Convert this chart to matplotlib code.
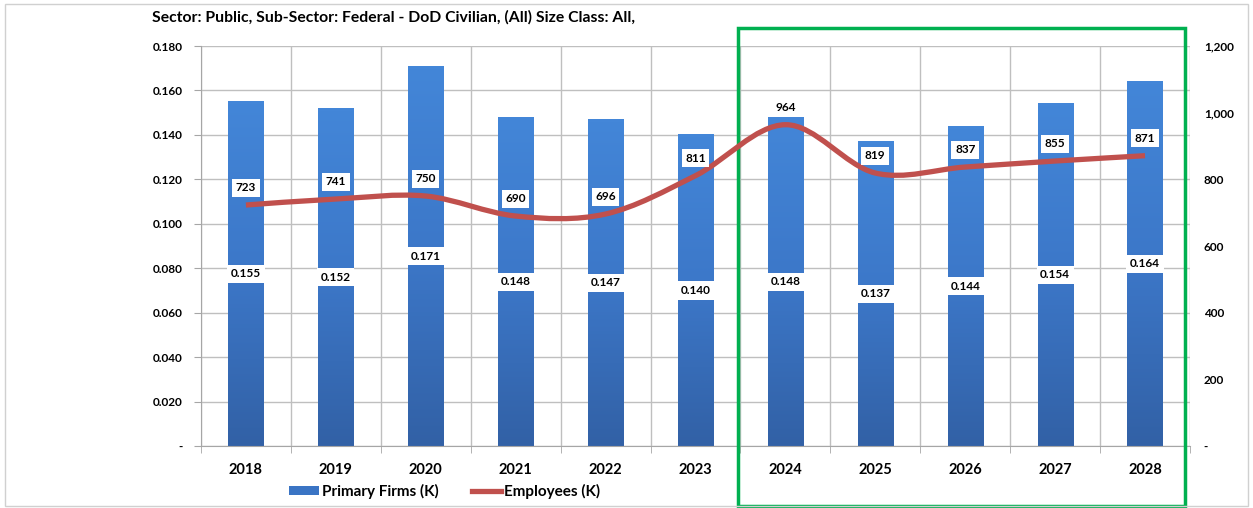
import numpy as np
import matplotlib.pyplot as plt
from matplotlib.path import Path
from matplotlib.patches import PathPatch, Rectangle
from matplotlib.lines import Line2D
from matplotlib.colors import LinearSegmentedColormap
from matplotlib.transforms import blended_transform_factory

plt.rcParams['font.family'] = ['Lato', 'DejaVu Sans']

years = ['2018', '2019', '2020', '2021', '2022', '2023', '2024', '2025', '2026', '2027', '2028']
firms = [0.155, 0.152, 0.171, 0.148, 0.147, 0.140, 0.148, 0.137, 0.144, 0.154, 0.164]
employees = [723, 741, 750, 690, 696, 811, 964, 819, 837, 855, 871]

title = 'Sector: Public, Sub-Sector: Federal - DoD Civilian, (All) Size Class: All,'

fig = plt.figure(figsize=(12.53, 5.08), dpi=100)
ax = fig.add_axes([0.1604, 0.122, 0.7893, 0.7874])
x = np.arange(len(years))

# bars with a vertical gradient
bars = ax.bar(x, firms, width=0.39, color='#3A74C4', zorder=2)
grad = np.linspace(0, 1, 100).reshape(-1, 1)
cmap = LinearSegmentedColormap.from_list('b', ['#3261A6', '#3C77C8', '#4386D8'])
for b in bars:
    x0, w, h = b.get_x(), b.get_width(), b.get_height()
    ax.imshow(grad, extent=(x0, x0 + w, 0, h), origin='lower', cmap=cmap,
              aspect='auto', zorder=2.1, interpolation='bicubic')

ax.set_xlim(-0.5, len(years) - 0.5)
ax.set_ylim(0, 0.18)
ax.set_yticks(np.arange(0, 0.181, 0.02))
ax.set_yticklabels(['-'] + ['%.3f' % v for v in np.arange(0.02, 0.181, 0.02)])
ax.set_xticks(x)
ax.set_xticklabels(years)
ax.set_xticks(np.arange(-0.5, len(years), 1), minor=True)
ax.grid(True, axis='y', color='#BFBFBF', lw=1, zorder=0)
ax.grid(True, axis='x', which='minor', color='#BFBFBF', lw=1, zorder=0)
ax.tick_params(axis='x', which='major', length=0, pad=12, labelsize=10.5)
ax.tick_params(axis='x', which='minor', length=5, color='#A6A6A6')
ax.tick_params(axis='y', length=5, color='#A6A6A6', labelsize=8.5, pad=8)
for lab in ax.get_xticklabels() + ax.get_yticklabels():
    lab.set_fontweight('bold')
for s in ['top', 'right']:
    ax.spines[s].set_visible(False)
ax.spines['left'].set_color('#A6A6A6')
ax.spines['bottom'].set_color('#A6A6A6')

for xi, v in zip(x, firms):
    ax.text(xi, v / 2, '%.3f' % v, ha='center', va='center', fontsize=8.5,
            fontweight='bold', zorder=5,
            bbox=dict(boxstyle='square,pad=0.3', fc='white', ec='none'))

# secondary axis with smoothed employee line
ax2 = ax.twinx()
ax2.set_ylim(0, 1200)
ax2.set_yticks(np.arange(0, 1201, 200))
ax2.set_yticklabels(['-'] + ['{:,}'.format(v) for v in range(200, 1201, 200)])
ax2.tick_params(axis='y', length=0, labelsize=8.5, pad=10)
for lab in ax2.get_yticklabels():
    lab.set_fontweight('bold')
for s in ax2.spines.values():
    s.set_visible(False)

pts = np.column_stack([x, employees]).astype(float)
verts = [pts[0]]
codes = [Path.MOVETO]
n = len(pts)
for i in range(n - 1):
    p0 = pts[max(i - 1, 0)]
    p1 = pts[i]
    p2 = pts[i + 1]
    p3 = pts[min(i + 2, n - 1)]
    c1 = p1 + (p2 - p0) / 6
    c2 = p2 - (p3 - p1) / 6
    verts += [c1, c2, p2]
    codes += [Path.CURVE4] * 3
ax2.add_patch(PathPatch(Path(verts, codes), fc='none', ec='#C0504D', lw=3.8,
                        capstyle='butt', zorder=3))

for xi, v in zip(x, employees):
    ax2.annotate(str(v), (xi, v), xytext=(0, 12.5), textcoords='offset points',
                 ha='center', va='center', fontsize=8.5, fontweight='bold', zorder=6,
                 bbox=dict(boxstyle='square,pad=0.3', fc='white', ec='none'))

fig.text(0.1213, 0.966, title, ha='left', va='center', fontsize=11.3, fontweight='bold')

handles = [Rectangle((0, 0), 1, 1, fc='#3A74C4'),
           Line2D([], [], color='#C0504D', lw=3.8)]
fig.legend(handles, ['Primary Firms (K)', 'Employees (K)'], loc='center',
           bbox_to_anchor=(0.355, 0.033), ncol=2, frameon=False,
           handlelength=1.9, handleheight=0.6, columnspacing=2.2, handletextpad=0.2,
           prop={'weight': 'bold', 'size': 11})

# highlight box for forecast years
tr = blended_transform_factory(ax.transData, fig.transFigure)
ax.add_patch(Rectangle((5.47, 0.004), 4.98, 0.94, transform=tr, fill=False,
                       ec='#00B050', lw=2.5, clip_on=False, zorder=10))

# outer border
fig.patches.append(Rectangle((0.004, 0.004), 0.992, 0.988, transform=fig.transFigure,
                             fill=False, ec='#D0D0D0', lw=1))

fig.savefig('out.png', dpi=100)
